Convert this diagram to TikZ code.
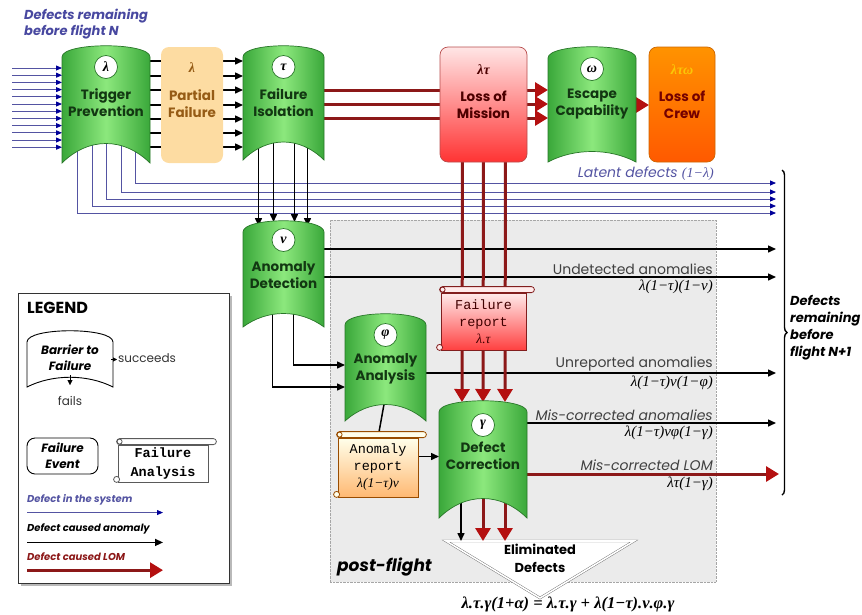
\documentclass[tikz,border=0pt]{standalone}
\usepackage{fontspec}
\setmainfont{Poppins}
\newfontfamily\serfam{Liberation Serif}
\newfontfamily\monfam{Liberation Mono}
\usetikzlibrary{calc,arrows.meta,shadows,decorations.pathreplacing}

\definecolor{barlight}{RGB}{140,232,125}
\definecolor{bardark}{RGB}{58,168,58}
\definecolor{baredge}{RGB}{40,118,40}
\definecolor{bartxt}{RGB}{18,55,18}
\definecolor{latentc}{RGB}{84,84,162}
\definecolor{titleblue}{RGB}{72,72,160}
\definecolor{lomred}{RGB}{140,24,24}
\definecolor{lomhead}{RGB}{180,16,16}
\definecolor{partfill}{RGB}{253,220,162}
\definecolor{parttxt}{RGB}{150,92,22}
\definecolor{flightgray}{RGB}{235,235,235}
\definecolor{scrolledge}{RGB}{90,90,90}
\definecolor{repedge}{RGB}{130,30,30}

\pgfdeclarelayer{bg}
\pgfdeclarelayer{wires}
\pgfsetlayers{bg,wires,main}

%% barrier outline round an empty node: [style]{node}{bottom bend}
\newcommand\barrier[3][barrier]{%
  \shadedraw[#1] (#2.south west) -- ($(#2.north west)+(0,12)$)
  .. controls ($(#2.north west)+(0,-3)$) and ($(#2.north east)+(0,-3)$) .. ($(#2.north east)+(0,12)$)
  -- (#2.south east)
  .. controls ($(#2.south east)!0.3!(#2.south west)+(0,-#3)$) and ($(#2.south west)!0.3!(#2.south east)+(0,-#3)$) .. (#2.south west) -- cycle;
}
%% rolled paper ends round a node: {node}{fill}{edge}
\newcommand\scroll[3]{%
  \draw[draw=#3, line width=0.8pt, fill=#2, rounded corners=3pt] ($(#1.north west)+(-1,-6)$) rectangle ($(#1.north east)+(8,0)$);
  \draw[draw=#3, line width=0.8pt, fill=#2] ($(#1.north west)+(2,-3)$) circle (2.5pt);
  \draw[draw=#3, line width=0.8pt, fill=#2] ($(#1.south west)+(-1,-3)$) circle (3pt);
}

\begin{document}
\begin{tikzpicture}[x=1pt, y=-1pt,
  slot/.style={inner sep=0pt, outer sep=0pt, anchor=north west},
  barrier/.style={draw=baredge, line width=0.7pt, left color=bardark, right color=bardark, middle color=barlight},
  legbarrier/.style={draw=black, line width=0.9pt, left color=white, right color=white},
  ball/.style={circle, draw=baredge, fill=white, line width=0.7pt, minimum size=23pt, inner sep=0pt,
    font=\serfam\itshape\bfseries\fontsize{14}{14}\selectfont},
  sym/.style={inner sep=0pt, font=\serfam\itshape\bfseries\fontsize{14}{14}\selectfont},
  bartext/.style={align=center, text=bartxt, font=\fontsize{13.5}{17}\selectfont\bfseries},
  event/.style={slot, rounded corners=8pt, line width=0.7pt},
  scrollbody/.style={draw=scrolledge, line width=0.8pt, inner sep=0pt, align=center,
    font=\monfam\fontsize{13.5}{17}\selectfont},
  wire/.style={line width=1.5pt, -{Triangle[length=8pt,width=7pt]}},
  lomwire/.style={line width=3pt, draw=lomred, -{Triangle[length=13pt,width=15pt,color=lomhead]}},
  latent/.style={draw=latentc, line width=0.8pt, -{Triangle[length=6pt,width=5pt,color=blue!60!black]}},
  note/.style={anchor=south east, inner sep=1pt, text=black!75, font=\fontsize{14}{16}\selectfont},
  formula/.style={anchor=north east, inner sep=1pt, font=\serfam\itshape\fontsize{15}{17}\selectfont},
  legnote/.style={anchor=west, inner sep=0pt, font=\fontsize{10}{12}\selectfont\bfseries\itshape}]

  \useasboundingbox (0,0) rectangle (862,614);

  \node[anchor=north west, align=left, inner sep=0pt, text=titleblue,
    font=\fontsize{13}{16}\selectfont\bfseries\itshape] (title) at (24,9) {Defects remaining\\before flight N};

  %% flight N barriers and events
  \node[slot, minimum width=88pt, minimum height=118pt] (trig) at (62,45) {};
  \barrier{trig}{26}
  \node[ball] (trig-s) at ($(trig.north)+(0,22)$) {λ};
  \node[bartext] (trig-t) at ($(trig.north)+(0,58)$) {Trigger\\Prevention};

  \node[event, fill=partfill, minimum width=62pt, minimum height=116pt] (part) at (161,47) {};
  \node[sym, text=parttxt] (part-s) at ($(part.north)+(0,21)$) {λ};
  \node[bartext, text=parttxt] (part-t) at ($(part.north)+(0,57)$) {Partial\\Failure};

  \node[slot, minimum width=81pt, minimum height=115pt] (iso) at (243,45) {};
  \barrier{iso}{24}
  \node[ball] (iso-s) at ($(iso.north)+(0,22)$) {τ};
  \node[bartext] (iso-t) at ($(iso.north)+(0,58)$) {Failure\\Isolation};

  \node[event, draw=red!60!black!70, top color=red!10, bottom color=red!80!white,
    minimum width=87pt, minimum height=115pt] (lom) at (440,47) {};
  \node[sym, text=red!30!black] (lom-s) at ($(lom.north)+(0,23)$) {λτ};
  \node[bartext, text=red!30!black] (lom-t) at ($(lom.north)+(0,58)$) {Loss of\\Mission};

  \node[slot, minimum width=88pt, minimum height=116pt] (esc) at (548,46) {};
  \barrier{esc}{14}
  \node[ball] (esc-s) at ($(esc.north)+(0,23)$) {ω};
  \node[bartext] (esc-t) at ($(esc.north)+(0,58)$) {Escape\\Capability};

  \node[event, draw=orange!80!black, top color=orange!85!yellow, bottom color=orange!70!red,
    minimum width=66pt, minimum height=115pt] (loc) at (649,47) {};
  \node[sym, text=yellow!60!orange] (loc-s) at ($(loc.north)+(0,23)$) {λτω};
  \node[bartext, text=red!45!black] (loc-t) at ($(loc.north)+(0,58)$) {Loss of\\Crew};

  %% post-flight
  \begin{pgfonlayer}{bg}
    \node[slot, fill=flightgray, draw=gray!70, densely dotted, minimum width=386pt, minimum height=362pt] (flight) at (330,220) {};
  \end{pgfonlayer}
  \node[anchor=west, inner sep=0pt, font=\fontsize{17}{20}\selectfont\bfseries\itshape] (flight-t) at (337,567) {post-flight};

  \node[slot, minimum width=81pt, minimum height=107pt] (det) at (243,220) {};
  \barrier{det}{18}
  \node[ball] (det-s) at ($(det.north)+(0,20)$) {ν};
  \node[bartext] (det-t) at ($(det.north)+(0,55)$) {Anomaly\\Detection};

  \node[slot, minimum width=81pt, minimum height=108pt] (ana) at (345,313) {};
  \barrier{ana}{22}
  \node[ball] (ana-s) at ($(ana.north)+(0,22)$) {φ};
  \node[bartext] (ana-t) at ($(ana.north)+(0,56)$) {Anomaly\\Analysis};

  \node[slot, minimum width=88pt, minimum height=118pt] (cor) at (439,400) {};
  \barrier{cor}{26}
  \node[ball] (cor-s) at ($(cor.north)+(0,25)$) {γ};
  \node[bartext] (cor-t) at ($(cor.north)+(0,56)$) {Defect\\Correction};

  \node[scrollbody, draw=repedge, top color=red!8, bottom color=red!75!white, text=red!25!black,
    minimum width=85pt, minimum height=57pt] (frep) at (483.5,321.5) {Failure\\report\\{\serfam\itshape λ.τ}};
  \scroll{frep}{red!8}{repedge}

  \node[scrollbody, draw=orange!60!black, top color=yellow!8, bottom color=orange!55!white,
    minimum width=80pt, minimum height=59pt] (arep) at (378,467.5) {Anomaly\\report\\{\serfam\itshape λ(1−τ)ν}};
  \scroll{arep}{yellow!8}{orange!60!black}

  \node[align=center, inner sep=0pt, font=\fontsize{13}{18}\selectfont\bfseries] (elim) at (540,558) {Eliminated\\Defects};
  \node[inner sep=0pt, font=\serfam\bfseries\itshape\fontsize{16.5}{18}\selectfont] (eq) at (568,604)
    {λ.τ.γ(1+α) = λ.τ.γ + λ(1−τ).ν.φ.γ};

  \begin{pgfonlayer}{wires}
    %% incoming defects
    \foreach \i in {0,...,11}{
      \coordinate (in\i) at (12,68+7.2*\i);
      \draw[latent] (in\i) -- (trig.west |- in\i);
    }
    %% latent defects
    \foreach \dx/\y [count=\i] in {29/183,15/192,0/199,-14/206,-29/213}{
      \coordinate (lat\i) at (776,\y);
      \draw[latent] ($(trig.south)+(\dx,-26)$) |- (lat\i);
    }
    \foreach \y in {61,76,90,105,119,133,147}
      \draw[wire] (trig.east |- 0,\y) -- (iso.west |- 0,\y); %% trig->iso
    \foreach \dx/\t in {-25/6,-10/2,11/2,24/6}
      \draw[wire] ($(iso.south)+(\dx,-25)$) -- ($(det.north)+(\dx,\t)$); %% iso->det
    \foreach \y [count=\i] in {249,277}{
      \coordinate (und\i) at (776,\y);
      \draw[wire] (det.east |- und\i) -- (und\i);
    }
    \draw[wire] ($(det.south)+(10,-20)$) |- (ana.west |- 0,365);
    \draw[wire] ($(det.south)+(-11,-20)$) |- (ana.west |- 0,387);
    \coordinate (unr) at (776,373);
    \draw[wire] (ana.east |- unr) -- (unr);
    \draw[line width=1.5pt] ($(ana.south)+(0,-25)$) -- (arep.north);
    \draw[wire] ($(arep.east)+(0,-11)$) -- (cor.west |- 0,456.5); %% arep->cor
    \coordinate (misa) at (776,423);
    \draw[wire] (cor.east |- misa) -- (misa);
    %% LOM paths
    \foreach \y in {90,104,118}
      \draw[lomwire] (iso.east |- 0,\y) -- (esc.west |- 0,\y);
    \draw[lomwire] (esc.east |- 0,105) -- (loc.west |- 0,105);
    \foreach \dx in {-21,0,22}
      \draw[lomwire] ($(lom.south)+(\dx,-10)$) -- ($(cor.north)+(\dx,2)$);
    \coordinate (misl) at (779,474);
    \draw[lomwire] (cor.east |- misl) -- (misl);
    %% eliminated
    \draw[draw=gray!80!black, double=white, double distance=1.6pt, fill=white]
      ($(elim)+(-94,-17)$) -- ($(elim)+(94,-17)$) -- ($(elim)+(0,40)$) -- cycle;
    \coordinate (elimtop) at ($(elim)+(0,-17)$);
    \draw[wire] ($(cor.south)+(-22,-22)$) -- ($(elimtop -| cor.south)+(-22,0)$);
    \foreach \dx in {0,22}
      \draw[lomwire] ($(cor.south)+(\dx,-22)$) -- ($(elimtop -| cor.south)+(\dx,0)$);
  \end{pgfonlayer}

  %% flow labels
  \node[anchor=south east, inner sep=1pt, text=latentc, font=\fontsize{14}{16}\selectfont\itshape] (lat-t) at (715,182)
    {Latent defects {\serfam(1−λ)}};
  \node[note] (und-t) at (714,276) {Undetected anomalies};
  \node[formula] (und-f) at (714,279) {λ(1−τ)(1−ν)};
  \node[note] (unr-t) at (714,372) {Unreported anomalies};
  \node[formula] (unr-f) at (714,375) {λ(1−τ)ν(1−φ)};
  \node[note, font=\fontsize{14}{16}\selectfont\itshape] (misa-t) at (714,422) {Mis-corrected anomalies};
  \node[formula] (misa-f) at (714,425) {λ(1−τ)νφ(1−γ)};
  \node[note, font=\fontsize{14}{16}\selectfont\itshape] (misl-t) at (714,472) {Mis-corrected LOM};
  \node[formula] (misl-f) at (714,476) {λτ(1−γ)};

  \coordinate (brtop) at (782,170);
  \coordinate (brbot) at (782,495);
  \draw[decorate, decoration={brace, amplitude=5pt}, line width=1.4pt] (brtop) -- (brbot);
  \node[anchor=west, align=left, inner sep=0pt, font=\fontsize{13}{17}\selectfont\bfseries\itshape] (next) at (790,328)
    {Defects\\remaining\\before\\flight N+1};

  %% legend
  \node[slot, draw=black!80, fill=white, line width=0.8pt, drop shadow={shadow xshift=3pt, shadow yshift=-3pt, fill=black!55},
    minimum width=211pt, minimum height=290pt] (legend) at (18,293) {};
  \node[anchor=west, inner sep=0pt, font=\fontsize{16}{18}\selectfont\bfseries] (legend-t) at (27,308) {LEGEND};
  \node[slot, minimum width=86pt, minimum height=57pt] (legbar) at (27,330) {};
  \barrier[legbarrier]{legbar}{13}
  \node[bartext, text=black, font=\fontsize{12}{16}\selectfont\bfseries\itshape] (legbar-t) at ($(legbar.north)+(0,28)$) {Barrier to\\Failure};
  \draw[-{Triangle[length=4pt,width=4pt]}] ($(legbar.east)+(-2,1)$) -- ($(legbar.east)+(4,1)$);
  \node[anchor=west, inner sep=0pt, font=\fontsize{12}{14}\selectfont, text=black!80] (succ) at ($(legbar.east)+(5,0)$) {succeeds};
  \draw[-{Triangle[length=5pt,width=5pt]}] ($(legbar.south)+(0,-12)$) -- ($(legbar.south)+(0,-2)$);
  \node[inner sep=0pt, font=\fontsize{12}{14}\selectfont, text=black!80] (fails) at ($(legbar.south)+(0,14)$) {fails};
  \node[event, draw=black, line width=0.9pt, minimum width=71pt, minimum height=36pt, align=center,
    font=\fontsize{12}{16}\selectfont\bfseries\itshape] (legevent) at (27,438) {Failure\\Event};
  \node[scrollbody, fill=white, font=\monfam\bfseries\fontsize{13.5}{18}\selectfont,
    minimum width=90pt, minimum height=37pt] (legscroll) at (163,463.5) {Failure\\Analysis};
  \scroll{legscroll}{white}{scrolledge}

  \node[legnote, text=latentc] (legsys) at (27,500) {Defect in the system};
  \draw[latent] ($(legsys.south west)+(0,7)$) -- +(136,0);
  \node[legnote] (leganom) at (27,529) {Defect caused anomaly};
  \draw[wire] ($(leganom.south west)+(0,8)$) -- +(136,0);
  \node[legnote, text=lomred] (leglom) at (27,557) {Defect caused LOM};
  \draw[lomwire] ($(leglom.south west)+(0,9)$) -- +(136,0);
\end{tikzpicture}
\end{document}
